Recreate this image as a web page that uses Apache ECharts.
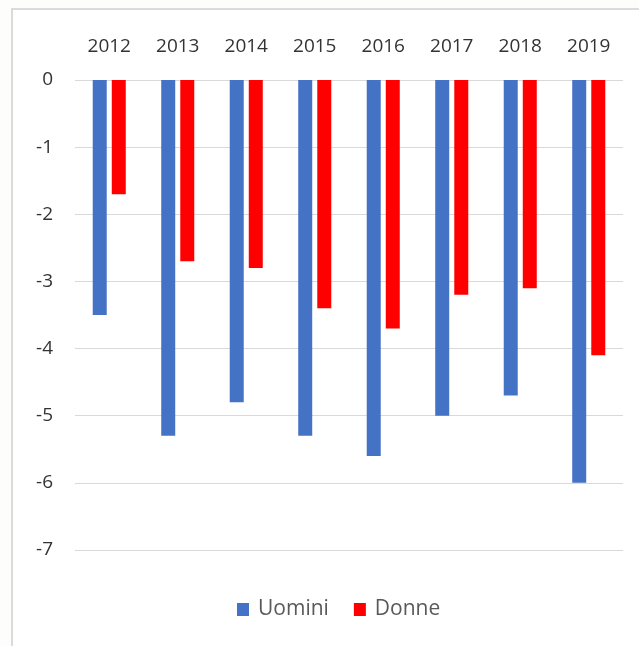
<!DOCTYPE html>
<html>
<head>
<meta charset="utf-8">
<script src="https://cdn.jsdelivr.net/npm/echarts@6/dist/echarts.min.js"></script>
<style>
  html, body { margin: 0; padding: 0; background: #fdfdfb; }
  #chart { width: 639px; height: 646px; }
</style>
</head>
<body>
<div id="chart"></div>
<script>
// Annual change by sex, 2012–2019
const years = ['2012', '2013', '2014', '2015', '2016', '2017', '2018', '2019'];
const uomini = [-3.5, -5.3, -4.8, -5.3, -5.6, -5.0, -4.7, -6.0];
const donne = [-1.7, -2.7, -2.8, -3.4, -3.7, -3.2, -3.1, -4.1];
const yTicks = [0, -1, -2, -3, -4, -5, -6, -7];

const chart = echarts.init(document.getElementById('chart'));
const fontFamily = '"Open Sans", "Liberation Sans", sans-serif';

chart.setOption({
  backgroundColor: '#fdfdfb',
  animation: false,
  graphic: [{
    type: 'rect',
    shape: { x: 12, y: 9, width: 700, height: 700 },
    style: { fill: '#ffffff', stroke: '#d0d0d0', lineWidth: 1.5 },
    z: -10
  }],
  grid: { left: 75, right: 16, top: 80, bottom: 96, containLabel: false },
  legend: {
    data: ['Uomini', 'Donne'],
    top: 594,
    left: 232,
    itemWidth: 12,
    itemHeight: 13,
    itemGap: 25,
    icon: 'rect',
    textStyle: { color: '#595959', fontSize: 21, fontFamily, padding: [0, 0, 0, 4] }
  },
  xAxis: {
    type: 'category',
    data: years,
    position: 'top',
    axisLine: { show: false },
    axisTick: { show: false },
    axisLabel: { color: '#333333', fontSize: 19, fontFamily, margin: 24 }
  },
  yAxis: {
    type: 'value',
    min: yTicks[yTicks.length - 1],
    max: yTicks[0],
    interval: 1,
    axisLine: { show: false },
    axisTick: { show: false },
    axisLabel: { color: '#333333', fontSize: 19, fontFamily, margin: 22 },
    splitLine: { lineStyle: { color: '#d9d9d9', width: 1 } }
  },
  series: [
    {
      name: 'Uomini',
      type: 'bar',
      data: uomini,
      barWidth: 14,
      barGap: '36%',
      itemStyle: { color: '#4472c4' }
    },
    {
      name: 'Donne',
      type: 'bar',
      data: donne,
      barWidth: 14,
      itemStyle: { color: '#ff0000' }
    }
  ]
});
</script>
</body>
</html>
